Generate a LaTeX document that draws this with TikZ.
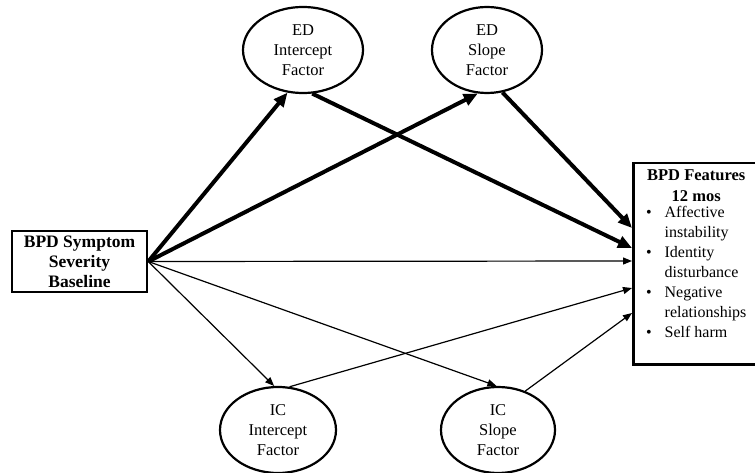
\documentclass[tikz,border=0pt]{standalone}
\usepackage{fontspec}
\setmainfont{Liberation Serif}
\usetikzlibrary{shapes.geometric,arrows.meta}
\begin{document}
\begin{tikzpicture}[x=1pt,y=-1pt,
	factor/.style={draw, ellipse, line width=2.2pt, inner sep=0pt, align=center, font=\fontsize{16.5}{20}\selectfont},
	box/.style={draw, line width=2.5pt, inner sep=0pt, align=center, font=\fontsize{16.5}{21}\selectfont\bfseries},
	strong/.style={line width=4pt, -{Triangle[length=14pt,width=12pt]}},
	weak/.style={line width=1.2pt, -{Triangle[length=9pt,width=7pt]}}]
	\useasboundingbox (0,0) rectangle (755,473);
	% boxes
	\node[box, minimum width=135pt, minimum height=61pt, font=\fontsize{17.5}{20}\selectfont\bfseries] (src) at (79.5,261.5) {BPD Symptom\\Severity\\Baseline};
	\node[box, minimum width=126pt, minimum height=201pt, anchor=north west] (feat) at (632,162) {BPD Features\\12 mos\\[1pt]
		{\mdseries\fontsize{16}{20}\selectfont\begin{tabular}{@{}l@{\hspace{13pt}}l@{}}
			\textbullet & Affective\\ & instability\\
			\textbullet & Identity\\ & disturbance\\
			\textbullet & Negative\\ & relationships\\
			\textbullet & Self harm
		\end{tabular}}\\[14pt]};
	% latent factors
	\node[factor, minimum width=120pt, minimum height=86pt] (edi) at (303,50) {ED\\Intercept\\Factor};
	\node[factor, minimum width=110pt, minimum height=86pt] (eds) at (487,50) {ED\\Slope\\Factor};
	\node[factor, minimum width=116pt, minimum height=86pt] (ici) at (278,430) {IC\\Intercept\\Factor};
	\node[factor, minimum width=114pt, minimum height=86pt] (ics) at (498,430) {IC\\Slope\\Factor};
	% arrow ends on the outcome box
	\coordinate (inA) at (632,228);
	\coordinate (inB) at (632,248);
	\coordinate (inC) at (632,261);
	\coordinate (inD) at (632,288);
	\coordinate (inE) at (632,313);
	% paths
	\draw[strong] (src.east) -- (edi.250);
	\draw[strong] (src.east) -- (eds.258);
	\draw[weak] (src.east) -- (inC);
	\draw[weak] (src.east) -- (ici.95);
	\draw[weak] (src.east) -- (ics.92);
	\draw[strong] (edi.282) -- (inB);
	\draw[strong] (eds.290) -- (inA);
	\draw[weak] (ici.75) -- (inD);
	\draw[weak] (ics.55) -- (inE);
\end{tikzpicture}
\end{document}
